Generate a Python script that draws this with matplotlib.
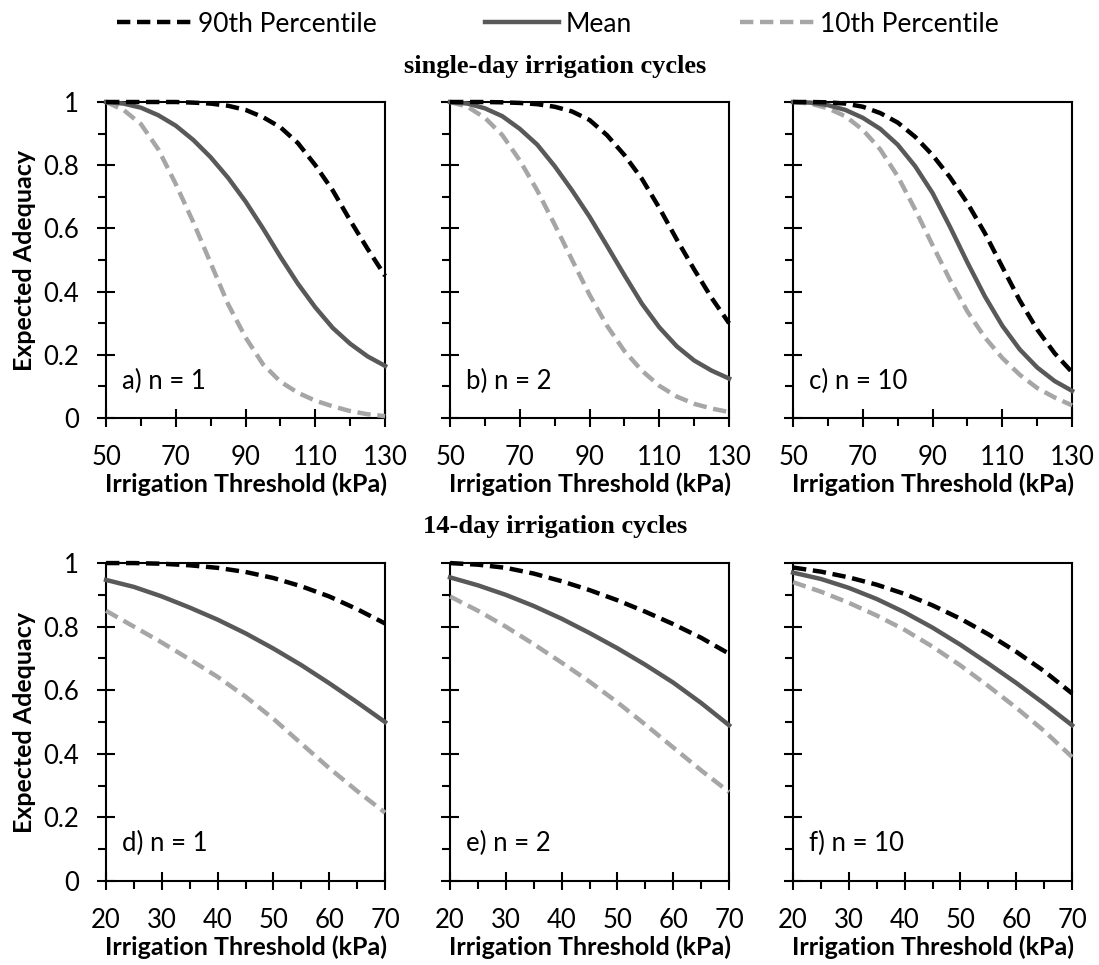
import numpy as np
import matplotlib
matplotlib.use('Agg')
import matplotlib.pyplot as plt
from matplotlib.ticker import MultipleLocator
from matplotlib.lines import Line2D

plt.rcParams['font.family'] = ['Lato', 'DejaVu Sans']

# irrigation threshold (kPa)
x_single = [50, 55, 60, 65, 70, 75, 80, 85, 90, 95, 100, 105, 110, 115, 120, 125, 130]
x_14day = [20, 25, 30, 35, 40, 45, 50, 55, 60, 65, 70]

# single-day cycles
p90_a = [1.0, 1.0, 1.0, 1.0, 1.0, 0.998, 0.995, 0.988, 0.975, 0.952, 0.92, 0.87, 0.80, 0.72, 0.625, 0.535, 0.45]
mean_a = [1.0, 0.995, 0.982, 0.958, 0.925, 0.88, 0.825, 0.76, 0.685, 0.60, 0.51, 0.425, 0.35, 0.285, 0.235, 0.195, 0.165]
p10_a = [1.0, 0.975, 0.93, 0.85, 0.74, 0.62, 0.49, 0.36, 0.255, 0.17, 0.115, 0.08, 0.055, 0.037, 0.022, 0.012, 0.006]

p90_b = [1.0, 1.0, 1.0, 0.999, 0.997, 0.993, 0.985, 0.97, 0.943, 0.895, 0.832, 0.757, 0.665, 0.565, 0.47, 0.38, 0.30]
mean_b = [1.0, 0.995, 0.98, 0.955, 0.915, 0.865, 0.797, 0.72, 0.637, 0.545, 0.452, 0.362, 0.287, 0.227, 0.182, 0.15, 0.125]
p10_b = [1.0, 0.985, 0.95, 0.895, 0.815, 0.72, 0.612, 0.5, 0.39, 0.292, 0.212, 0.15, 0.102, 0.068, 0.045, 0.03, 0.019]

p90_c = [1.0, 1.0, 0.999, 0.995, 0.985, 0.965, 0.935, 0.89, 0.832, 0.762, 0.68, 0.585, 0.478, 0.372, 0.28, 0.205, 0.145]
mean_c = [1.0, 0.998, 0.99, 0.975, 0.95, 0.915, 0.865, 0.797, 0.712, 0.605, 0.492, 0.385, 0.292, 0.217, 0.16, 0.117, 0.086]
p10_c = [1.0, 0.995, 0.98, 0.955, 0.912, 0.85, 0.765, 0.66, 0.547, 0.437, 0.337, 0.255, 0.19, 0.137, 0.095, 0.065, 0.04]

# 14-day cycles
p90_d = [1.0, 1.0, 0.998, 0.993, 0.985, 0.972, 0.953, 0.927, 0.895, 0.855, 0.81]
mean_d = [0.947, 0.925, 0.895, 0.86, 0.822, 0.779, 0.731, 0.679, 0.622, 0.562, 0.50]
p10_d = [0.85, 0.80, 0.75, 0.697, 0.642, 0.58, 0.51, 0.432, 0.355, 0.283, 0.215]

p90_e = [1.0, 0.995, 0.985, 0.967, 0.943, 0.915, 0.883, 0.847, 0.808, 0.765, 0.715]
mean_e = [0.955, 0.93, 0.90, 0.865, 0.825, 0.78, 0.732, 0.68, 0.624, 0.56, 0.49]
p10_e = [0.895, 0.85, 0.80, 0.745, 0.687, 0.627, 0.562, 0.492, 0.42, 0.348, 0.28]

p90_f = [0.986, 0.973, 0.955, 0.932, 0.903, 0.867, 0.825, 0.776, 0.721, 0.66, 0.59]
mean_f = [0.97, 0.95, 0.922, 0.887, 0.845, 0.797, 0.743, 0.684, 0.623, 0.558, 0.49]
p10_f = [0.94, 0.91, 0.875, 0.835, 0.79, 0.737, 0.678, 0.613, 0.545, 0.472, 0.39]

panel_labels = ['a) n = 1', 'b) n = 2', 'c) n = 10', 'd) n = 1', 'e) n = 2', 'f) n = 10']
y_ticks = [0, 0.2, 0.4, 0.6, 0.8, 1]
y_ticklabels = ['0', '0.2', '0.4', '0.6', '0.8', '1']
x_ticks_single = [50, 70, 90, 110, 130]
x_ticks_14day = [20, 30, 40, 50, 60, 70]

col_black = 'black'
col_mean = '#595959'
col_p10 = '#a6a6a6'

fig = plt.figure(figsize=(10.99, 9.65), dpi=100)

lefts = [0.0965, 0.4095, 0.7216]
width = 0.2539
rows = [(0.5668, 0.3275), (0.0870, 0.3295)]

panels = [
    (x_single, p90_a, mean_a, p10_a, x_ticks_single, 10),
    (x_single, p90_b, mean_b, p10_b, x_ticks_single, 10),
    (x_single, p90_c, mean_c, p10_c, x_ticks_single, 10),
    (x_14day, p90_d, mean_d, p10_d, x_ticks_14day, 5),
    (x_14day, p90_e, mean_e, p10_e, x_ticks_14day, 5),
    (x_14day, p90_f, mean_f, p10_f, x_ticks_14day, 5),
]

for i, (x, p90, mean, p10, xt, minor) in enumerate(panels):
    r, c = divmod(i, 3)
    bottom, height = rows[r]
    ax = fig.add_axes([lefts[c], bottom, width, height])

    ax.plot(x, p10, color=col_p10, lw=3.2, dashes=(3, 1.5), clip_on=False, zorder=3)
    ax.plot(x, mean, color=col_mean, lw=3.2, clip_on=False, zorder=4)
    ax.plot(x, p90, color=col_black, lw=3.2, dashes=(3, 1.5), clip_on=False, zorder=5)

    ax.set_xlim(x[0], x[-1])
    ax.set_ylim(0, 1)
    ax.set_xticks(xt)
    ax.set_xticklabels([str(v) for v in xt])
    ax.xaxis.set_minor_locator(MultipleLocator(minor))
    ax.set_yticks(y_ticks)
    ax.yaxis.set_minor_locator(MultipleLocator(0.1))

    ax.tick_params(which='major', direction='inout', length=13, width=1.5,
                   labelsize=18.5, pad=13, top=False, right=False)
    ax.tick_params(which='minor', direction='out', length=5.5, width=1.5,
                   top=False, right=False)
    for s in ax.spines.values():
        s.set_linewidth(1.5)

    if c == 0:
        ax.set_yticklabels(y_ticklabels)
        ax.set_ylabel('Expected Adequacy', fontsize=18, fontweight='bold', labelpad=5)
    else:
        ax.tick_params(labelleft=False)

    ax.set_xlabel('Irrigation Threshold (kPa)', fontsize=18, fontweight='bold', labelpad=2)
    ax.text(0.057, 0.117, panel_labels[i], transform=ax.transAxes,
            fontsize=18.5, va='center', ha='left')

fig.text(0.5055, 1 - 66 / 965, 'single-day irrigation cycles', ha='center', va='center',
         fontsize=19, fontweight='bold', family='Liberation Serif')
fig.text(0.5055, 1 - 526 / 965, '14-day irrigation cycles', ha='center', va='center',
         fontsize=19, fontweight='bold', family='Liberation Serif')

handles = [
    Line2D([], [], color=col_black, lw=3.2, dashes=(3, 1.5)),
    Line2D([], [], color=col_mean, lw=3.2),
    Line2D([], [], color=col_p10, lw=3.2, dashes=(3, 1.5)),
]
fig.legend(handles, ['90th Percentile', 'Mean', '10th Percentile'], loc='center',
           bbox_to_anchor=(0.508, 1 - 24 / 965), ncol=3, frameon=False, fontsize=19,
           handlelength=2.8, handletextpad=0.25, columnspacing=4.1)

fig.savefig('out.png', dpi=100)
